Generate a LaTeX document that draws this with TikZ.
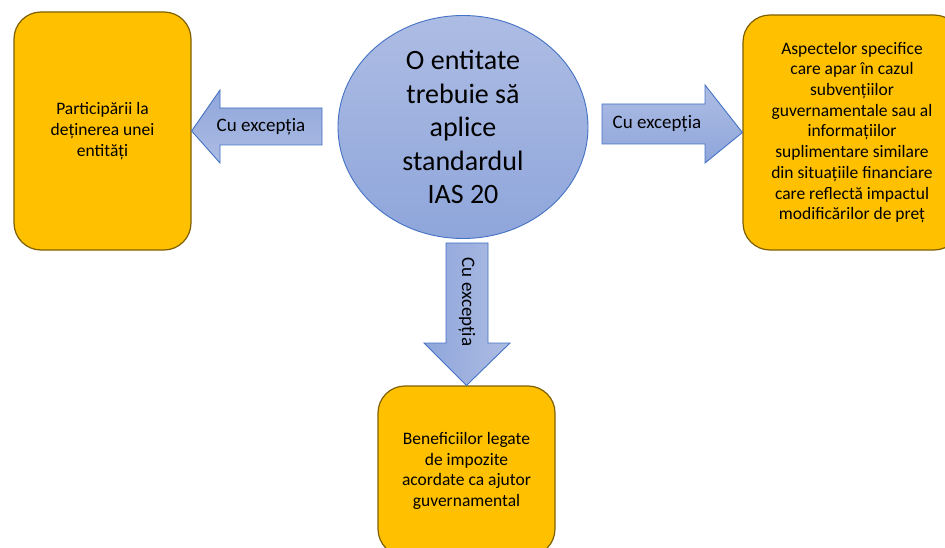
\documentclass[tikz,border=0pt]{standalone}
\usepackage{fontspec}
\setmainfont{Carlito}
\usetikzlibrary{shapes.geometric}

\definecolor{boxgold}{HTML}{FFC000}
\definecolor{boxedge}{HTML}{7F6000}
\definecolor{blueedge}{HTML}{4472C4}
\definecolor{bluelight}{HTML}{ADBCE3}
\definecolor{bluedark}{HTML}{8FA6DB}

\tikzset{
  goldbox/.style={draw=boxedge, line width=1.2pt, fill=boxgold, rounded corners=27pt,
    align=center, font=\fontsize{17.5}{20.7}\selectfont},
  bluefill/.style={draw=blueedge, line width=0.9pt, top color=bluelight, bottom color=bluedark},
  arrowtext/.style={font=\fontsize{19}{22}\selectfont, inner sep=0pt},
}

\begin{document}
\begin{tikzpicture}[x=1pt, y=-1pt]
    \useasboundingbox (0, 0) rectangle (945, 548);
    \clip (0, 0) rectangle (945, 548);
    % centre
    \node [bluefill, ellipse, minimum width=250pt, minimum height=223pt] (ias) at (463, 127) {};
    \node [align=center, font=\fontsize{28}{33.5}\selectfont] (iastext) at (ias) {O entitate\\trebuie să\\aplice\\standardul\\IAS 20};
    % exceptions
    \node [goldbox, minimum width=177pt, minimum height=238pt] (part) at (102.5, 131) {Participării la\\deținerea unei\\entități};
    \node [goldbox, minimum width=218pt, minimum height=235pt] (aspect) at (852, 132.5) {Aspectelor specifice\\care apar în cazul\\subvențiilor\\guvernamentale sau al\\informațiilor\\suplimentare similare\\din situațiile financiare\\care reflectă impactul\\modificărilor de preț};
    \node [goldbox, minimum width=177pt, minimum height=170pt] (benef) at (466.5, 471) {Beneficiilor legate\\de impozite\\acordate ca ajutor\\guvernamental};
    % arrows
    \draw [bluefill, shading angle=180] (part.east) -- (220, 90) -- (220, 108) -- (322, 108)
        -- (322, 145) -- (220, 145) -- (220, 163) -- cycle;
    \node [arrowtext] (exc1) at (261, 127) {Cu excepția};
    \draw [bluefill] (aspect.west) -- (705, 163) -- (705, 144) -- (602, 144)
        -- (602, 104) -- (705, 104) -- (705, 85) -- cycle;
    \node [arrowtext] (exc2) at (657, 124) {Cu excepția};
    \draw [bluefill, shading angle=-90] (benef.north) -- (424, 343) -- (446, 343) -- (446, 243)
        -- (488, 243) -- (488, 343) -- (510, 343) -- cycle;
    \node [arrowtext, rotate=-90] (exc3) at (467, 302) {Cu excepția};
\end{tikzpicture}
\end{document}
